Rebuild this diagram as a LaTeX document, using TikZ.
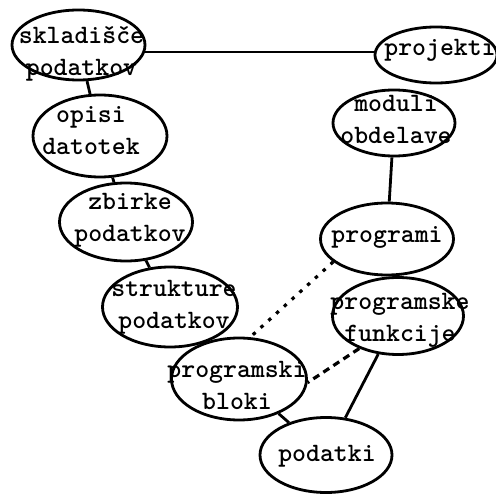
\documentclass[tikz,border=0pt]{standalone}
\usetikzlibrary{shapes.geometric}

\tikzset{
	blob/.style 2 args={draw, ellipse, line width=2.8pt, inner sep=0pt, minimum width=#1, minimum height=#2},
	tag/.style={font=\ttfamily\bfseries\fontsize{26.5}{32}\selectfont, align=center, inner sep=0pt},
	link/.style={line width=2.8pt},
	dotlink/.style={line width=3.2pt, dash pattern=on 3.5pt off 7pt},
	dashlink/.style={line width=3.2pt, dash pattern=on 7pt off 5pt},
}

\begin{document}
\begin{tikzpicture}[x=1pt,y=-1pt]
	\useasboundingbox (0,0) rectangle (496,495);

	\node[blob={133pt}{70pt}, label={[tag,xshift=3pt,yshift=-9pt]center:skladišče\\podatkov}] (sklad) at (78.5,45) {};
	\node[blob={122pt}{56pt}, label={[tag,xshift=4pt,yshift=5pt]center:projekti}] (projekti) at (436,55) {};
	\node[blob={122pt}{66pt}, label={[tag,xshift=2pt,yshift=4pt]center:moduli\\obdelave}] (moduli) at (394,123) {};
	\node[blob={134pt}{82pt}, label={[tag,xshift=-9pt,yshift=5pt]center:opisi\\datotek}] (opisi) at (100,136) {};
	\node[blob={133pt}{78pt}, label={[tag,xshift=4pt,yshift=2pt]center:zbirke\\podatkov}] (zbirke) at (126,222) {};
	\node[blob={133pt}{72pt}, label={[tag,yshift=2pt]center:programi}] (programi) at (387,239) {};
	\node[blob={135pt}{80pt}, label={[tag,xshift=4pt]center:strukture\\podatkov}] (strukture) at (170,307) {};
	\node[blob={131pt}{77pt}, label={[tag,xshift=2pt,yshift=-4pt]center:programske\\funkcije}] (funkcije) at (398,316) {};
	\node[blob={135pt}{82pt}, label={[tag,xshift=-2pt,yshift=-6pt]center:programski\\bloki}] (bloki) at (239,379) {};
	\node[blob={132pt}{75pt}, label={[tag,xshift=1pt,yshift=-1pt]center:podatki}] (podatki) at (326,455) {};

	\draw[link] (sklad.-6) -- (sklad.-6 -| projekti.west);
	\draw[link] (sklad) -- (opisi);
	\draw[link] (opisi) -- (zbirke);
	\draw[link] (zbirke) -- (strukture);
	\draw[link] (strukture) -- (bloki);
	\draw[link] (moduli) -- (programi);
	\draw[link] (programi) -- (funkcije);
	\draw[link] (bloki) -- (podatki);
	\draw[link] (funkcije) -- (podatki);

	\draw[dotlink] (programi.203) -- (bloki.75);
	\draw[dashlink] (funkcije.220) -- (bloki.-3);
\end{tikzpicture}
\end{document}
